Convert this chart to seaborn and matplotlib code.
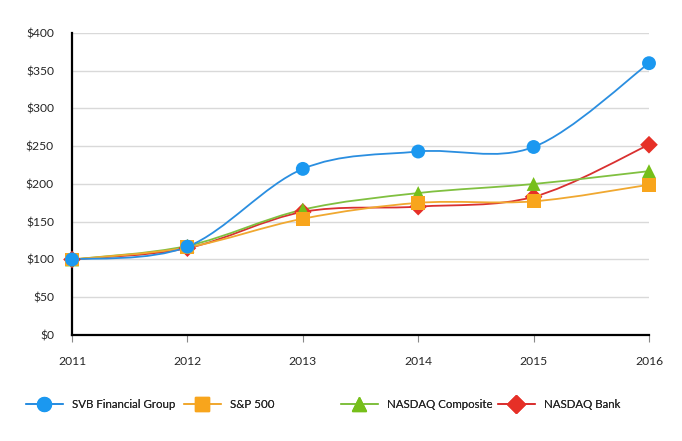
import numpy as np
import pandas as pd
import matplotlib
matplotlib.use("Agg")
import matplotlib.pyplot as plt
from matplotlib.path import Path
from matplotlib.patches import PathPatch
from matplotlib.lines import Line2D
import seaborn as sns

years = [2011, 2012, 2013, 2014, 2015, 2016]
svb = [100, 117, 220, 243, 249, 360]
sp500 = [100, 116, 154, 175, 177, 199]
nasdaq_comp = [100, 118, 166, 188, 200, 217]
nasdaq_bank = [100, 115, 163, 170, 183, 252]

series_names = ["SVB Financial Group", "S&P 500", "NASDAQ Composite", "NASDAQ Bank"]
series_values = [svb, sp500, nasdaq_comp, nasdaq_bank]
colors = ["#1b98f0", "#f8a51c", "#76bf1a", "#e63027"]
line_colors = ["#2a8ee0", "#f0a830", "#80c040", "#d93030"]
markers = ["o", "s", "^", "D"]
msizes = [10, 10, 10, 9]
zorders = [6, 5, 4, 3]
legend_x = [26, 184, 341, 498]  # px where each legend entry starts


def smooth_path(x, y):
    # Bezier segments like a spreadsheet "smoothed line"
    pts = np.column_stack([x, y]).astype(float)
    n = len(pts)
    verts = [pts[0]]
    codes = [Path.MOVETO]
    for i in range(n - 1):
        p0 = pts[i - 1] if i > 0 else pts[i]
        p1 = pts[i]
        p2 = pts[i + 1]
        p3 = pts[i + 2] if i + 2 < n else pts[i + 1]
        c1 = p1 + (p2 - p0) / 6.0
        c2 = p2 - (p3 - p1) / 6.0
        verts += [c1, c2, p2]
        codes += [Path.CURVE4] * 3
    return Path(verts, codes)


def main():
    sns.set_style("white")
    plt.rcParams["font.family"] = ["Lato", "DejaVu Sans"]

    df = pd.DataFrame({
        "year": years * len(series_names),
        "value": sum(series_values, []),
        "series": np.repeat(series_names, len(years)),
    })

    fig = plt.figure(figsize=(6.82, 4.41), dpi=100)
    ax = fig.add_axes([0.1056, 0.2404, 0.846, 0.6848])

    for name, vals, lc, z in zip(series_names, series_values, line_colors, zorders):
        patch = PathPatch(smooth_path(years, vals), facecolor="none",
                          edgecolor=lc, lw=1.3, zorder=z, clip_on=False)
        ax.add_patch(patch)

    for name, col, mk, ms, z in zip(series_names, colors, markers, msizes, zorders):
        sub = df[df["series"] == name]
        sns.scatterplot(data=sub, x="year", y="value", ax=ax, color=col,
                        marker=mk, s=ms ** 2, edgecolor="none", zorder=z + 10,
                        clip_on=False, legend=False)

    ax.set_xlim(2011, 2016)
    ax.set_ylim(0, 400)
    ax.set_xticks(years)
    ax.set_xticklabels([str(y) for y in years])
    ax.set_yticks(range(0, 401, 50))
    ax.set_yticklabels([f"${v}" for v in range(0, 401, 50)])
    ax.set_xlabel("")
    ax.set_ylabel("")
    ax.yaxis.grid(True, color="#d9d9d9", lw=1)
    ax.set_axisbelow(True)
    for s in ["top", "right"]:
        ax.spines[s].set_visible(False)
    for s in ["left", "bottom"]:
        ax.spines[s].set_color("black")
        ax.spines[s].set_linewidth(1.6)
    ax.tick_params(axis="y", length=5, color="#888888", pad=8, labelsize=8.7)
    ax.tick_params(axis="x", length=5, color="#888888", pad=10, labelsize=8.7, bottom=True)

    for name, lc, col, mk, ms, lx in zip(series_names, line_colors, colors,
                                         markers, msizes, legend_x):
        h = Line2D([0], [0], color=lc, lw=1.3, marker=mk, markersize=ms,
                   markerfacecolor=col, markeredgecolor=col)
        leg = fig.legend([h], [name], loc="center left",
                         bbox_to_anchor=(lx / 682, 1 - 405 / 441),
                         frameon=False, fontsize=8.3, handlelength=3.2,
                         handletextpad=0.8, borderpad=0, borderaxespad=0)
        fig.add_artist(leg)

    fig.savefig("out.png", dpi=100)


if __name__ == "__main__":
    main()
